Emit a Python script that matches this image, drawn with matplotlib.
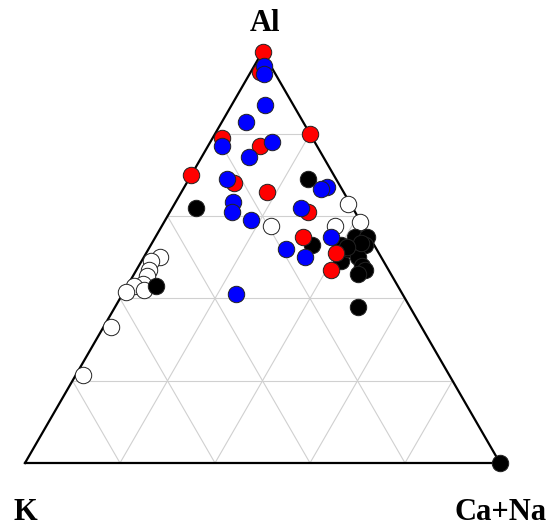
import numpy as np
import matplotlib
matplotlib.use("Agg")
import matplotlib.pyplot as plt

# Ternary compositions: fractions of Al and Ca+Na (K is the remainder)
red_al   = [1.00, 0.95, 0.80, 0.79, 0.77, 0.70, 0.68, 0.66, 0.61, 0.55, 0.51, 0.47]
red_cana = [0.00, 0.02, 0.20, 0.02, 0.11, 0.00, 0.10, 0.18, 0.29, 0.31, 0.40, 0.41]

blue_al   = [0.965, 0.945, 0.87, 0.83, 0.78, 0.77, 0.745, 0.69, 0.67, 0.665,
             0.635, 0.61, 0.59, 0.62, 0.55, 0.52, 0.50, 0.41]
blue_cana = [0.02, 0.03, 0.07, 0.05, 0.13, 0.03, 0.10, 0.08, 0.30, 0.29,
             0.12, 0.13, 0.18, 0.27, 0.37, 0.29, 0.34, 0.24]

black_al   = [0.69, 0.62, 0.53, 0.53, 0.49, 0.52, 0.55, 0.55, 0.53, 0.50,
              0.48, 0.47, 0.46, 0.38, 0.43, 0.00, 0.535, 0.525]
black_cana = [0.25, 0.05, 0.34, 0.40, 0.42, 0.42, 0.42, 0.445, 0.45, 0.45,
              0.47, 0.48, 0.47, 0.51, 0.06, 1.00, 0.44, 0.415]

white_al   = [0.63, 0.585, 0.575, 0.575, 0.50, 0.49, 0.47, 0.455, 0.435, 0.43,
              0.415, 0.42, 0.33, 0.215]
white_cana = [0.365, 0.413, 0.23, 0.365, 0.035, 0.02, 0.025, 0.03, 0.03, 0.015,
              0.005, 0.04, 0.015, 0.015]

H = np.sqrt(3) / 2


def project(al, cana):
    al = np.asarray(al, dtype=float)
    cana = np.asarray(cana, dtype=float)
    return cana + al / 2, al * H


fig = plt.figure(figsize=(5.54, 5.27), dpi=100)
ax = fig.add_axes([0, 0, 1, 1])
ax.set_xlim(-25 / 475, 529 / 475)
ax.set_ylim(-64 / 475, 463 / 475)
ax.axis("off")

# Grid lines at 20% steps, parallel to each side
grid_kw = dict(color="#d0d0d0", lw=0.8, zorder=1)
for f in [0.2, 0.4, 0.6, 0.8]:
    # constant Al
    x, y = project([f, f], [0, 1 - f])
    ax.plot(x, y, **grid_kw)
    # constant Ca+Na
    x, y = project([0, 1 - f], [f, f])
    ax.plot(x, y, **grid_kw)
    # constant K
    x, y = project([0, 1 - f], [1 - f, 0])
    ax.plot(x, y, **grid_kw)

# Triangle outline
x, y = project([0, 0, 1, 0], [0, 1, 0, 0])
ax.plot(x, y, color="black", lw=1.6, zorder=2, solid_joinstyle="miter")

mk = dict(s=140, edgecolors="#222222", linewidths=0.7)
for al, cana, col, z in [(white_al, white_cana, "white", 3),
                         (black_al, black_cana, "black", 4),
                         (red_al, red_cana, "#ff0000", 5),
                         (blue_al, blue_cana, "#0000ff", 6)]:
    x, y = project(al, cana)
    ax.scatter(x, y, c=col, zorder=z, clip_on=False, **mk)

lab = dict(fontfamily="Liberation Serif", fontweight="bold", fontsize=22,
           ha="center", va="center")
ax.text(0.505, 440 / 475, "Al", **lab)
ax.text(0 / 475, -49 / 475, "K", **lab)
ax.text(476 / 475, -49 / 475, "Ca+Na", **lab)

fig.savefig("out.png", dpi=100)
